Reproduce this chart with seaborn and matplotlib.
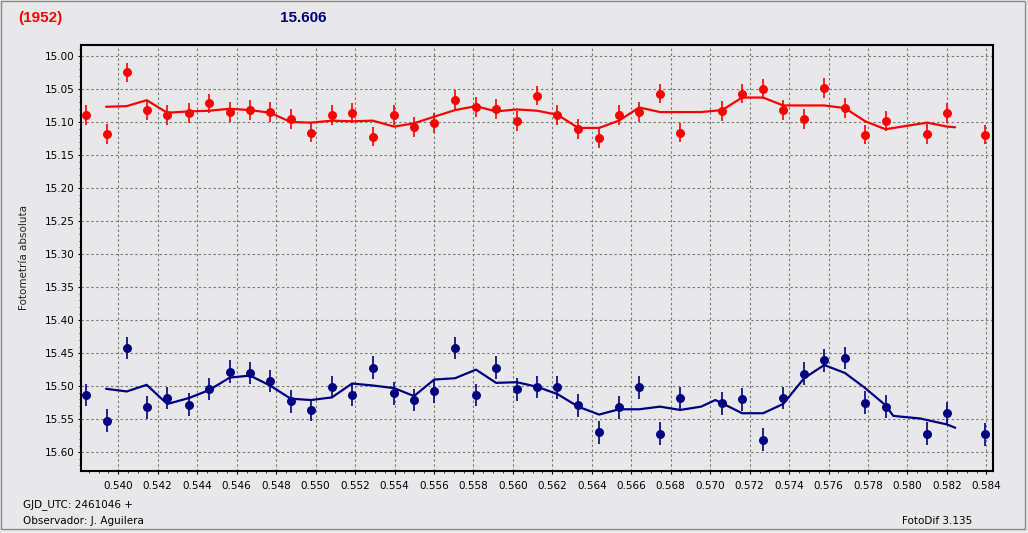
import matplotlib
matplotlib.use("Agg")
import matplotlib.pyplot as plt
import seaborn as sns
import pandas as pd
from matplotlib.ticker import MultipleLocator, FormatStrFormatter
from matplotlib.patches import Rectangle

# ---------------- data ----------------
times = [0.53836, 0.53944, 0.54043, 0.54144, 0.54248, 0.54358, 0.54460, 0.54565,
         0.54668, 0.54769, 0.54874, 0.54977, 0.55083, 0.55185, 0.55290, 0.55398,
         0.55499, 0.55601, 0.55707, 0.55813, 0.55915, 0.56020, 0.56123, 0.56226,
         0.56331, 0.56437, 0.56538, 0.56640, 0.56746, 0.56848, 0.57061, 0.57162,
         0.57268, 0.57370, 0.57476, 0.57578, 0.57683, 0.57786, 0.57889, 0.58100,
         0.58201, 0.58395]

red_mag = [15.090, 15.118, 15.025, 15.082, 15.090, 15.087, 15.072, 15.085, 15.082,
           15.085, 15.095, 15.116, 15.090, 15.086, 15.122, 15.089, 15.108, 15.102,
           15.067, 15.077, 15.080, 15.099, 15.060, 15.090, 15.111, 15.125, 15.090,
           15.085, 15.057, 15.116, 15.083, 15.057, 15.050, 15.082, 15.095, 15.048,
           15.079, 15.119, 15.098, 15.118, 15.087, 15.119]

blue_mag = [15.513, 15.552, 15.442, 15.532, 15.518, 15.528, 15.504, 15.478, 15.480,
            15.492, 15.523, 15.536, 15.501, 15.513, 15.472, 15.511, 15.521, 15.508,
            15.442, 15.513, 15.472, 15.505, 15.501, 15.502, 15.529, 15.570, 15.532,
            15.502, 15.572, 15.518, 15.526, 15.520, 15.581, 15.518, 15.481, 15.461,
            15.457, 15.525, 15.531, 15.572, 15.541, 15.573]

red_err = 0.015
blue_err = 0.017

red_line_t = [0.53938, 0.54043, 0.54144, 0.54248, 0.54358, 0.54460, 0.54565, 0.54668,
              0.54769, 0.54874, 0.54977, 0.55083, 0.55185, 0.55290, 0.55398, 0.55499,
              0.55601, 0.55707, 0.55813, 0.55915, 0.56020, 0.56123, 0.56226, 0.56331,
              0.56437, 0.56538, 0.56640, 0.56746, 0.56848, 0.56954, 0.57061, 0.57162,
              0.57268, 0.57370, 0.57476, 0.57578, 0.57683, 0.57786, 0.57889, 0.57993,
              0.58100, 0.58201, 0.58242]
red_line_m = [15.077, 15.076, 15.067, 15.086, 15.084, 15.083, 15.080, 15.082,
              15.086, 15.100, 15.101, 15.098, 15.099, 15.098, 15.107, 15.102,
              15.092, 15.082, 15.076, 15.084, 15.081, 15.083, 15.089, 15.109,
              15.109, 15.098, 15.078, 15.085, 15.085, 15.085, 15.082, 15.063,
              15.063, 15.075, 15.075, 15.075, 15.079, 15.099, 15.111, 15.106,
              15.101, 15.107, 15.108]

blue_line_t = [0.53938, 0.54043, 0.54144, 0.54248, 0.54358, 0.54460, 0.54565, 0.54668,
               0.54769, 0.54874, 0.54977, 0.55083, 0.55185, 0.55290, 0.55398, 0.55499,
               0.55601, 0.55707, 0.55813, 0.55915, 0.56020, 0.56123, 0.56226, 0.56331,
               0.56437, 0.56538, 0.56640, 0.56746, 0.56848, 0.56954, 0.57026, 0.57061,
               0.57162, 0.57268, 0.57370, 0.57476, 0.57578, 0.57683, 0.57786, 0.57889,
               0.57928, 0.58065, 0.58201, 0.58242]
blue_line_m = [15.504, 15.508, 15.498, 15.527, 15.518, 15.506, 15.487, 15.484,
               15.499, 15.519, 15.521, 15.517, 15.496, 15.499, 15.503, 15.515,
               15.490, 15.488, 15.475, 15.495, 15.494, 15.501, 15.512, 15.531,
               15.543, 15.535, 15.535, 15.531, 15.536, 15.531, 15.521, 15.526,
               15.541, 15.541, 15.527, 15.488, 15.468, 15.480, 15.503, 15.529,
               15.545, 15.549, 15.558, 15.563]

title_left = "(1952)"
title_mid = "15.606"
ylabel = "Fotometría absoluta"
foot1 = "GJD_UTC: 2461046 +"
foot2 = "Observador: J. Aguilera"
foot3 = "FotoDif 3.135"

RED = "#ff0000"
NAVY = "#000080"
BG = "#e8e8ea"

# ---------------- figure ----------------
sns.set_style("white")
plt.rcParams["font.family"] = ["DejaVu Sans"]

fig = plt.figure(figsize=(10.28, 5.33), dpi=100, facecolor=BG)
ax = fig.add_axes([81 / 1028, 1 - 470.7 / 533, (993.3 - 81) / 1028, (470.7 - 44.7) / 533])
ax.set_facecolor(BG)

pts = pd.DataFrame({"t": times, "red": red_mag, "blue": blue_mag})
lr = pd.DataFrame({"t": red_line_t, "m": red_line_m})
lb = pd.DataFrame({"t": blue_line_t, "m": blue_line_m})

# error bars
ax.errorbar(pts["t"], pts["red"], yerr=red_err, fmt="none", ecolor=RED, elinewidth=1.2, zorder=3)
ax.errorbar(pts["t"], pts["blue"], yerr=blue_err, fmt="none", ecolor=NAVY, elinewidth=1.2, zorder=3)

# smoothed lines
sns.lineplot(data=lr, x="t", y="m", ax=ax, color=RED, linewidth=1.6, sort=False, zorder=4)
sns.lineplot(data=lb, x="t", y="m", ax=ax, color=NAVY, linewidth=1.6, sort=False, zorder=4)

# points
sns.scatterplot(data=pts, x="t", y="red", ax=ax, color=RED, s=42, marker="o",
                edgecolor=RED, linewidth=0, zorder=5)
sns.scatterplot(data=pts, x="t", y="blue", ax=ax, color=NAVY, s=42, marker="o",
                edgecolor=NAVY, linewidth=0, zorder=5)

ax.set_xlim(0.53811, 0.58435)
ax.set_ylim(15.628, 14.983)

ax.xaxis.set_major_locator(MultipleLocator(0.002))
ax.xaxis.set_minor_locator(MultipleLocator(0.0005))
ax.yaxis.set_major_locator(MultipleLocator(0.05))
ax.yaxis.set_minor_locator(MultipleLocator(0.01))
ax.xaxis.set_major_formatter(FormatStrFormatter("%.3f"))
ax.yaxis.set_major_formatter(FormatStrFormatter("%.2f"))

ax.tick_params(axis="both", which="major", direction="out", length=2.5, width=0.8,
               labelsize=7.5, colors="black", left=True, bottom=True)
ax.tick_params(axis="x", which="major", pad=5)
ax.tick_params(axis="y", which="major", pad=2)
ax.tick_params(axis="both", which="minor", direction="out", length=1.5, width=0.6,
               left=True, bottom=True)

ax.grid(True, which="major", color="#7a7a7a", linestyle=(0, (2.2, 2.2)), linewidth=0.8)
ax.set_axisbelow(True)

for side, sp in ax.spines.items():
    sp.set_visible(True)
    sp.set_color("black")
    sp.set_linewidth(1.5)

ax.set_xlabel("")
ax.set_ylabel(ylabel, fontsize=7.5, color="#222222", labelpad=28)
ax.yaxis.set_label_coords(-0.057, 0.5)

# titles
fig.text(18 / 1028, 1 - 18 / 533, title_left, color=RED, fontsize=11, fontweight="bold",
         family=["Liberation Sans"], ha="left", va="center")
fig.text(303 / 1028, 1 - 18 / 533, title_mid, color=NAVY, fontsize=11, fontweight="bold",
         family=["Liberation Sans"], ha="center", va="center")

# footer
fig.text(23 / 1028, 1 - 505 / 533, foot1, fontsize=7.5, color="black", ha="left", va="center")
fig.text(23 / 1028, 1 - 521 / 533, foot2, fontsize=7.5, color="black", ha="left", va="center")
fig.text(972 / 1028, 1 - 521 / 533, foot3, fontsize=7.5, color="black", ha="right", va="center")

# window frame
fig.patches.append(Rectangle((1 / 1028, 1 - 529 / 533), 1024 / 1028, 528 / 533,
                             transform=fig.transFigure, fill=False,
                             edgecolor="#8a8a8a", linewidth=1.0))

fig.savefig("out.png", dpi=100, facecolor=BG)
